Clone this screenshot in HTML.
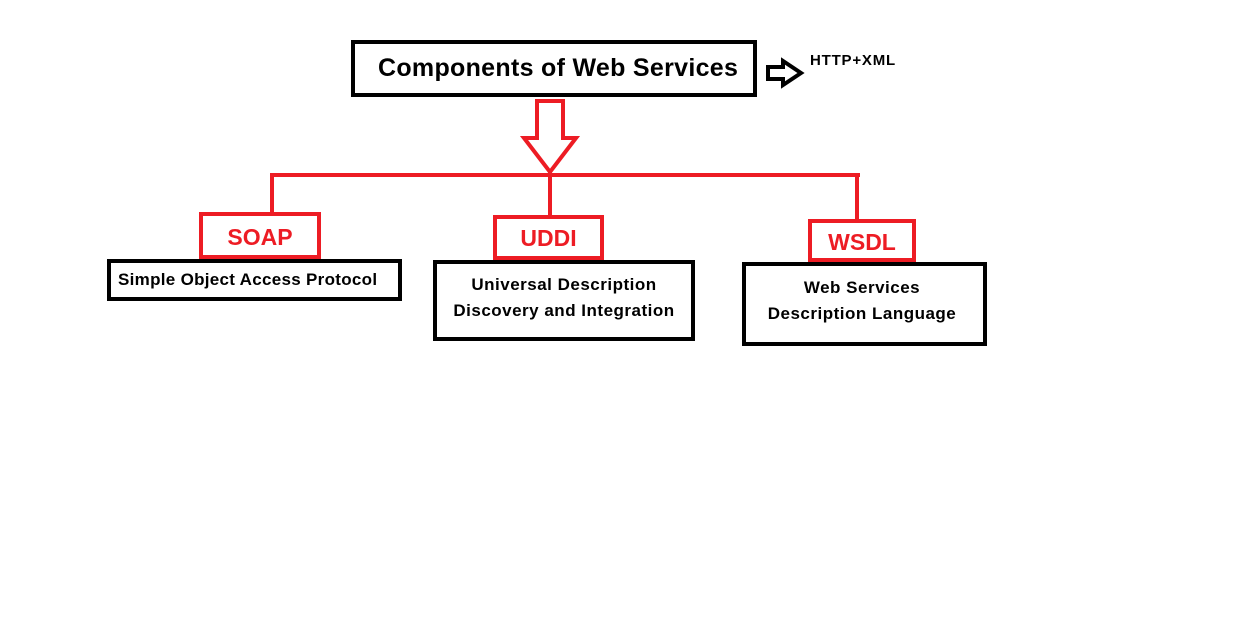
<!DOCTYPE html>
<html><head><style>
body{margin:0;width:1237px;height:618px;background:#fff;position:relative;overflow:hidden;font-family:"Liberation Sans",sans-serif;font-weight:bold}
.b{position:absolute;box-sizing:border-box;border:4px solid #000;}
.r{position:absolute;box-sizing:border-box;border:4px solid #ed1c24;color:#ed1c24;font-size:23px;text-align:center;}
.t{position:absolute;white-space:nowrap;color:#000}
</style></head><body>
<svg width="1237" height="618" style="position:absolute;left:0;top:0">
<g stroke="#ed1c24" stroke-width="4" fill="none">
<polygon points="537,101 563,101 563,138 576,138 550,172 524,138 537,138"/>
<line x1="270" y1="175" x2="860" y2="175"/>
<line x1="272" y1="175" x2="272" y2="214"/>
<line x1="550" y1="172" x2="550" y2="217"/>
<line x1="857" y1="175" x2="857" y2="221"/>
</g>
<polygon points="768,67 783,67 783,61 801,73 783,85 783,79 768,79" stroke="#000" stroke-width="4" fill="none"/>
</svg>
<div class="b" style="left:351px;top:40px;width:406px;height:57px"></div>
<div class="t" style="left:378px;top:54px;font-size:25px;letter-spacing:0.3px">Components of Web Services</div>
<div class="t" style="left:810px;top:52px;font-size:15px;letter-spacing:0.8px">HTTP+XML</div>
<div class="r" style="left:199px;top:212px;width:122px;height:47px;line-height:43px;">SOAP</div>
<div class="r" style="left:493px;top:215px;width:111px;height:45px;line-height:39px;">UDDI</div>
<div class="r" style="left:808px;top:219px;width:108px;height:43px;line-height:39px;">WSDL</div>
<div class="b" style="left:107px;top:259px;width:295px;height:42px"></div>
<div class="t" style="left:118px;top:270px;font-size:17px;letter-spacing:0.3px">Simple Object Access Protocol</div>
<div class="b" style="left:433px;top:260px;width:262px;height:81px"></div>
<div class="t" style="left:433px;width:262px;text-align:center;top:272px;font-size:17px;line-height:26px;letter-spacing:0.5px">Universal Description<br>Discovery and Integration</div>
<div class="b" style="left:742px;top:262px;width:245px;height:84px"></div>
<div class="t" style="left:742px;width:240px;text-align:center;top:275px;font-size:17px;line-height:26px;letter-spacing:0.5px">Web Services<br>Description Language</div>
</body></html>
